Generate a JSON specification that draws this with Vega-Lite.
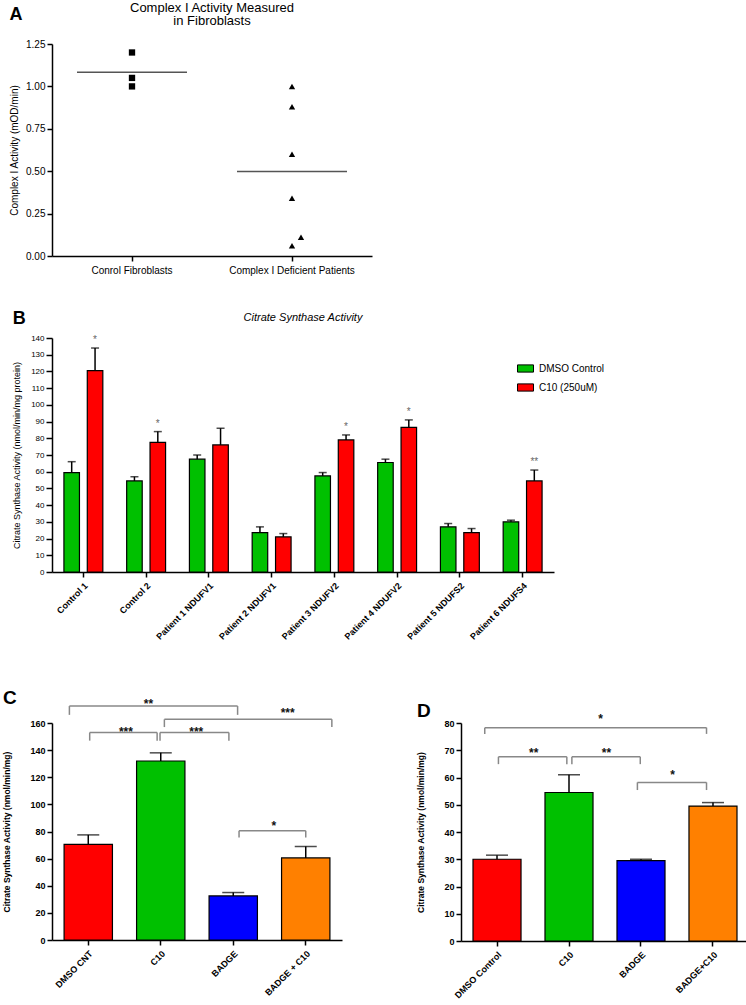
{
  "$schema": "https://vega.github.io/schema/vega-lite/v6.json",
  "background": "white",
  "padding": {"left": 2, "top": 2, "right": 0, "bottom": 0},
  "resolve": {"scale": {"fill": "independent"}, "legend": {"fill": "independent"}},
  "config": {
    "font": "Liberation Sans",
    "view": {"stroke": null},
    "axis": {"grid": false, "domainColor": "black", "domainWidth": 1.5, "tickColor": "black", "tickWidth": 1.5, "tickSize": 5, "labelColor": "black", "titleColor": "black", "labelFont": "Liberation Sans", "titleFont": "Liberation Sans"},
    "title": {"font": "Liberation Sans", "color": "black"},
    "legend": {"labelFont": "Liberation Sans", "labelColor": "black"}
  },
  "datasets": {
    "fib": [
      {"group": "Conrol Fibroblasts", "value": 1.20},
      {"group": "Conrol Fibroblasts", "value": 1.05},
      {"group": "Conrol Fibroblasts", "value": 1.00},
      {"group": "Complex I Deficient Patients", "value": 1.00},
      {"group": "Complex I Deficient Patients", "value": 0.88},
      {"group": "Complex I Deficient Patients", "value": 0.60},
      {"group": "Complex I Deficient Patients", "value": 0.34},
      {"group": "Complex I Deficient Patients", "value": 0.11},
      {"group": "Complex I Deficient Patients", "value": 0.06}
    ],
    "cs": [
      {"sample": "Control 1", "treatment": "DMSO Control", "value": 59.5, "hi": 66, "sig": ""},
      {"sample": "Control 1", "treatment": "C10 (250uM)", "value": 120.5, "hi": 134, "sig": "*"},
      {"sample": "Control 2", "treatment": "DMSO Control", "value": 54.5, "hi": 57, "sig": ""},
      {"sample": "Control 2", "treatment": "C10 (250uM)", "value": 77.5, "hi": 84, "sig": "*"},
      {"sample": "Patient 1 NDUFV1", "treatment": "DMSO Control", "value": 67.5, "hi": 70, "sig": ""},
      {"sample": "Patient 1 NDUFV1", "treatment": "C10 (250uM)", "value": 76, "hi": 86, "sig": ""},
      {"sample": "Patient 2 NDUFV1", "treatment": "DMSO Control", "value": 23.5, "hi": 27, "sig": ""},
      {"sample": "Patient 2 NDUFV1", "treatment": "C10 (250uM)", "value": 21, "hi": 23, "sig": ""},
      {"sample": "Patient 3 NDUFV2", "treatment": "DMSO Control", "value": 57.5, "hi": 59.5, "sig": ""},
      {"sample": "Patient 3 NDUFV2", "treatment": "C10 (250uM)", "value": 79, "hi": 82, "sig": "*"},
      {"sample": "Patient 4 NDUFV2", "treatment": "DMSO Control", "value": 65.5, "hi": 67.5, "sig": ""},
      {"sample": "Patient 4 NDUFV2", "treatment": "C10 (250uM)", "value": 86.5, "hi": 91, "sig": "*"},
      {"sample": "Patient 5 NDUFS2", "treatment": "DMSO Control", "value": 27, "hi": 29, "sig": ""},
      {"sample": "Patient 5 NDUFS2", "treatment": "C10 (250uM)", "value": 23.5, "hi": 26, "sig": ""},
      {"sample": "Patient 6 NDUFS4", "treatment": "DMSO Control", "value": 30, "hi": 31, "sig": ""},
      {"sample": "Patient 6 NDUFS4", "treatment": "C10 (250uM)", "value": 54.5, "hi": 61, "sig": "**"}
    ],
    "c": [
      {"cond": "DMSO CNT", "value": 70.5, "hi": 77.5},
      {"cond": "C10", "value": 132, "hi": 138},
      {"cond": "BADGE", "value": 32.5, "hi": 35},
      {"cond": "BADGE + C10", "value": 60.5, "hi": 69}
    ],
    "cbr": [
      {"x1": 0.24, "x2": 2.56, "top": 172.5, "low": 166, "sx": 1.33, "sy": 176, "stars": "**"},
      {"x1": 1.55, "x2": 3.86, "top": 162.7, "low": 157, "sx": 3.25, "sy": 169.5, "stars": "***"},
      {"x1": 0.52, "x2": 1.45, "top": 153, "low": 147, "sx": 1.02, "sy": 155.5, "stars": "***"},
      {"x1": 1.49, "x2": 2.44, "top": 153, "low": 147, "sx": 1.99, "sy": 155.5, "stars": "***"},
      {"x1": 2.58, "x2": 3.5, "top": 80.5, "low": 75.5, "sx": 3.06, "sy": 86, "stars": "*"}
    ],
    "d": [
      {"cond": "DMSO Control", "value": 30, "hi": 31.5},
      {"cond": "C10", "value": 54.5, "hi": 61},
      {"cond": "BADGE", "value": 29.5, "hi": 30},
      {"cond": "BADGE+C10", "value": 49.5, "hi": 50.8}
    ],
    "dbr": [
      {"x1": 0.33, "x2": 3.41, "top": 78.3, "low": 76, "sx": 1.94, "sy": 82.4, "stars": "*"},
      {"x1": 0.52, "x2": 1.47, "top": 67.6, "low": 64.9, "sx": 1.01, "sy": 70.1, "stars": "**"},
      {"x1": 1.54, "x2": 2.49, "top": 67.6, "low": 64.9, "sx": 2.02, "sy": 70.1, "stars": "**"},
      {"x1": 2.45, "x2": 3.41, "top": 58.2, "low": 55.4, "sx": 2.94, "sy": 62.2, "stars": "*"}
    ]
  },
  "vconcat": [
    {
      "spacing": 35,
      "resolve": {"scale": {"fill": "independent"}, "legend": {"fill": "independent"}},
      "vconcat": [
        {
          "title": {"text": "A", "anchor": "start", "frame": "bounds", "fontSize": 18, "fontWeight": "bold", "offset": -22},
          "vconcat": [
            {
              "width": 320,
              "height": 212,
              "title": {"text": ["Complex I Activity Measured", "in Fibroblasts"], "fontSize": 13, "fontWeight": "normal", "lineHeight": 13, "offset": 11, "anchor": "middle", "frame": "group"},
              "data": {"name": "fib"},
              "encoding": {
                "x": {"field": "group", "type": "nominal", "sort": null, "title": null, "scale": {"paddingInner": 0, "paddingOuter": 0}, "axis": {"labelAngle": 0, "labelFontSize": 10, "labelPadding": 4}},
                "y": {"field": "value", "type": "quantitative", "title": "Complex I Activity (mOD/min)", "scale": {"domain": [0, 1.25], "nice": false}, "axis": {"values": [0, 0.25, 0.5, 0.75, 1, 1.25], "format": ".2f", "labelFontSize": 10, "titleFontSize": 10, "titleFontWeight": "normal", "titlePadding": 6}}
              },
              "layer": [
                {
                  "transform": [{"filter": "datum.value != 0.11"}],
                  "mark": {"type": "point", "filled": true, "opacity": 1, "color": "black", "size": 40},
                  "encoding": {"shape": {"field": "group", "type": "nominal", "sort": null, "scale": {"range": ["square", "triangle-up"]}, "legend": null}}
                },
                {
                  "transform": [{"filter": "datum.value == 0.11"}],
                  "mark": {"type": "point", "filled": true, "opacity": 1, "color": "black", "size": 40, "shape": "triangle-up", "xOffset": 9}
                },
                {
                  "mark": {"type": "tick", "size": 110, "thickness": 1.5, "color": "#555"},
                  "encoding": {"y": {"aggregate": "mean", "field": "value", "type": "quantitative", "title": "Complex I Activity (mOD/min)", "axis": {"values": [0, 0.25, 0.5, 0.75, 1, 1.25], "format": ".2f", "labelFontSize": 10, "titleFontSize": 10, "titleFontWeight": "normal", "titlePadding": 6}}}
                }
              ]
            }
          ]
        },
        {
          "title": {"text": "B", "anchor": "start", "frame": "bounds", "fontSize": 18, "fontWeight": "bold", "offset": -16},
          "resolve": {"scale": {"fill": "independent"}, "legend": {"fill": "independent"}},
          "vconcat": [
            {
              "width": 502,
              "height": 234,
              "title": {"text": "Citrate Synthase Activity", "fontSize": 11, "fontStyle": "italic", "fontWeight": "normal", "offset": 11, "anchor": "middle", "frame": "group"},
              "data": {"name": "cs"},
              "encoding": {
                "x": {"field": "sample", "type": "nominal", "sort": null, "title": null, "scale": {"paddingInner": 0.38, "paddingOuter": 0.19}, "axis": {"labelAngle": -45, "labelFontSize": 9, "labelFontWeight": "bold", "labelPadding": 4}},
                "xOffset": {"field": "treatment", "type": "nominal", "sort": null, "scale": {"paddingInner": 0.335, "paddingOuter": 0}},
                "y": {"field": "value", "type": "quantitative", "title": "Citrate Synthase Activity (nmol/min/mg protein)", "scale": {"domain": [0, 140], "nice": false}, "axis": {"values": [0, 10, 20, 30, 40, 50, 60, 70, 80, 90, 100, 110, 120, 130, 140], "labelFontSize": 8, "titleFontSize": 9, "titleFontWeight": "normal", "titlePadding": 9, "tickSize": 6}}
              },
              "layer": [
                {
                  "mark": {"type": "bar", "stroke": "black", "strokeWidth": 1.2},
                  "encoding": {"fill": {"field": "treatment", "type": "nominal", "sort": null, "scale": {"domain": ["DMSO Control", "C10 (250uM)"], "range": ["#00c000", "#ff0000"]}, "legend": {"title": null, "orient": "none", "legendX": 465, "legendY": 22, "symbolType": "M-1,-0.45H1V0.45H-1Z", "symbolSize": 256, "symbolStrokeColor": "black", "symbolStrokeWidth": 1, "labelFontSize": 10, "rowPadding": 4, "padding": 0, "labelOffset": 5}}}
                },
                {
                  "mark": {"type": "rule", "strokeWidth": 1.5, "color": "black"},
                  "encoding": {"y2": {"field": "hi"}}
                },
                {
                  "mark": {"type": "tick", "size": 8, "thickness": 1.5, "color": "black"},
                  "encoding": {"y": {"field": "hi", "type": "quantitative", "title": "Citrate Synthase Activity (nmol/min/mg protein)", "axis": {"values": [0, 10, 20, 30, 40, 50, 60, 70, 80, 90, 100, 110, 120, 130, 140], "labelFontSize": 8, "titleFontSize": 9, "titleFontWeight": "normal", "titlePadding": 9, "tickSize": 6}}}
                },
                {
                  "mark": {"type": "text", "baseline": "bottom", "dy": -3, "fontSize": 10, "color": "#666"},
                  "encoding": {"y": {"field": "hi", "type": "quantitative", "title": "Citrate Synthase Activity (nmol/min/mg protein)", "axis": {"values": [0, 10, 20, 30, 40, 50, 60, 70, 80, 90, 100, 110, 120, 130, 140], "labelFontSize": 8, "titleFontSize": 9, "titleFontWeight": "normal", "titlePadding": 9, "tickSize": 6}}, "text": {"field": "sig"}}
                }
              ]
            }
          ]
        }
      ]
    },
    {
      "spacing": 74,
      "resolve": {"scale": {"fill": "independent"}, "legend": {"fill": "independent"}},
      "hconcat": [
        {
          "width": 290,
          "height": 217,
          "title": {"text": "C", "anchor": "start", "frame": "bounds", "fontSize": 19, "fontWeight": "bold", "offset": -10},
          "resolve": {"scale": {"x": "independent"}},
          "layer": [
            {
              "data": {"name": "c"},
              "encoding": {
                "x": {"field": "cond", "type": "nominal", "sort": null, "title": null, "scale": {"paddingInner": 0.333, "paddingOuter": 0.1667}, "axis": {"labelAngle": -45, "labelFontSize": 9, "labelFontWeight": "bold", "labelPadding": 4}},
                "y": {"field": "value", "type": "quantitative", "title": "Citrate Synthase Activity (nmol/min/mg)", "scale": {"domain": [0, 160], "nice": false}, "axis": {"values": [0, 20, 40, 60, 80, 100, 120, 140, 160], "labelFontSize": 9, "labelFontWeight": "bold", "titleFontSize": 8.5, "titleFontWeight": "bold", "titlePadding": 18}}
              },
              "layer": [
                {
                  "mark": {"type": "bar", "stroke": "black", "strokeWidth": 1.2},
                  "encoding": {"fill": {"field": "cond", "type": "nominal", "sort": null, "scale": {"range": ["#ff0000", "#00c000", "#0000ff", "#ff8000"]}, "legend": null}}
                },
                {
                  "mark": {"type": "rule", "strokeWidth": 1.5, "color": "black"},
                  "encoding": {"y2": {"field": "hi"}}
                },
                {
                  "mark": {"type": "tick", "size": 22, "thickness": 1.5, "color": "black"},
                  "encoding": {"y": {"field": "hi", "type": "quantitative", "title": "Citrate Synthase Activity (nmol/min/mg)", "axis": {"values": [0, 20, 40, 60, 80, 100, 120, 140, 160], "labelFontSize": 9, "labelFontWeight": "bold", "titleFontSize": 8.5, "titleFontWeight": "bold", "titlePadding": 18}}}
                }
              ]
            },
            {
              "data": {"name": "cbr"},
              "encoding": {
                "y": {"field": "top", "type": "quantitative", "title": "Citrate Synthase Activity (nmol/min/mg)", "axis": {"values": [0, 20, 40, 60, 80, 100, 120, 140, 160], "labelFontSize": 9, "labelFontWeight": "bold", "titleFontSize": 8.5, "titleFontWeight": "bold", "titlePadding": 18}}
              },
              "layer": [
                {
                  "mark": {"type": "rule", "strokeWidth": 1.5, "color": "#888"},
                  "encoding": {"x": {"field": "x1", "type": "quantitative", "scale": {"domain": [0, 4], "nice": false, "zero": false}, "axis": null}, "x2": {"field": "x2"}}
                },
                {
                  "mark": {"type": "rule", "strokeWidth": 1.5, "color": "#888"},
                  "encoding": {"x": {"field": "x1", "type": "quantitative", "axis": null}, "y2": {"field": "low"}}
                },
                {
                  "mark": {"type": "rule", "strokeWidth": 1.5, "color": "#888"},
                  "encoding": {"x": {"field": "x2", "type": "quantitative", "axis": null}, "y2": {"field": "low"}}
                },
                {
                  "mark": {"type": "text", "baseline": "middle", "dy": 3, "fontSize": 12, "fontWeight": "bold", "color": "#111"},
                  "encoding": {"x": {"field": "sx", "type": "quantitative", "axis": null}, "y": {"field": "sy", "type": "quantitative", "title": "Citrate Synthase Activity (nmol/min/mg)", "axis": {"values": [0, 20, 40, 60, 80, 100, 120, 140, 160], "labelFontSize": 9, "labelFontWeight": "bold", "titleFontSize": 8.5, "titleFontWeight": "bold", "titlePadding": 18}}, "text": {"field": "stars"}}
                }
              ]
            }
          ]
        },
        {
          "width": 288,
          "height": 218,
          "title": {"text": "D", "anchor": "start", "frame": "bounds", "fontSize": 19, "fontWeight": "bold", "offset": -8},
          "resolve": {"scale": {"x": "independent"}},
          "layer": [
            {
              "data": {"name": "d"},
              "encoding": {
                "x": {"field": "cond", "type": "nominal", "sort": null, "title": null, "scale": {"paddingInner": 0.333, "paddingOuter": 0.1667}, "axis": {"labelAngle": -45, "labelFontSize": 9, "labelFontWeight": "bold", "labelPadding": 4}},
                "y": {"field": "value", "type": "quantitative", "title": "Citrate Synthase Activity (nmol/min/mg)", "scale": {"domain": [0, 80], "nice": false}, "axis": {"values": [0, 10, 20, 30, 40, 50, 60, 70, 80], "labelFontSize": 9, "labelFontWeight": "bold", "titleFontSize": 8.5, "titleFontWeight": "bold", "titlePadding": 18}}
              },
              "layer": [
                {
                  "mark": {"type": "bar", "stroke": "black", "strokeWidth": 1.2},
                  "encoding": {"fill": {"field": "cond", "type": "nominal", "sort": null, "scale": {"range": ["#ff0000", "#00c000", "#0000ff", "#ff8000"]}, "legend": null}}
                },
                {
                  "mark": {"type": "rule", "strokeWidth": 1.5, "color": "black"},
                  "encoding": {"y2": {"field": "hi"}}
                },
                {
                  "mark": {"type": "tick", "size": 22, "thickness": 1.5, "color": "black"},
                  "encoding": {"y": {"field": "hi", "type": "quantitative", "title": "Citrate Synthase Activity (nmol/min/mg)", "axis": {"values": [0, 10, 20, 30, 40, 50, 60, 70, 80], "labelFontSize": 9, "labelFontWeight": "bold", "titleFontSize": 8.5, "titleFontWeight": "bold", "titlePadding": 18}}}
                }
              ]
            },
            {
              "data": {"name": "dbr"},
              "encoding": {
                "y": {"field": "top", "type": "quantitative", "title": "Citrate Synthase Activity (nmol/min/mg)", "axis": {"values": [0, 10, 20, 30, 40, 50, 60, 70, 80], "labelFontSize": 9, "labelFontWeight": "bold", "titleFontSize": 8.5, "titleFontWeight": "bold", "titlePadding": 18}}
              },
              "layer": [
                {
                  "mark": {"type": "rule", "strokeWidth": 1.5, "color": "#888"},
                  "encoding": {"x": {"field": "x1", "type": "quantitative", "scale": {"domain": [0, 4], "nice": false, "zero": false}, "axis": null}, "x2": {"field": "x2"}}
                },
                {
                  "mark": {"type": "rule", "strokeWidth": 1.5, "color": "#888"},
                  "encoding": {"x": {"field": "x1", "type": "quantitative", "axis": null}, "y2": {"field": "low"}}
                },
                {
                  "mark": {"type": "rule", "strokeWidth": 1.5, "color": "#888"},
                  "encoding": {"x": {"field": "x2", "type": "quantitative", "axis": null}, "y2": {"field": "low"}}
                },
                {
                  "mark": {"type": "text", "baseline": "middle", "dy": 3, "fontSize": 12, "fontWeight": "bold", "color": "#111"},
                  "encoding": {"x": {"field": "sx", "type": "quantitative", "axis": null}, "y": {"field": "sy", "type": "quantitative", "title": "Citrate Synthase Activity (nmol/min/mg)", "axis": {"values": [0, 10, 20, 30, 40, 50, 60, 70, 80], "labelFontSize": 9, "labelFontWeight": "bold", "titleFontSize": 8.5, "titleFontWeight": "bold", "titlePadding": 18}}, "text": {"field": "stars"}}
                }
              ]
            }
          ]
        }
      ]
    }
  ],
  "spacing": 47
}
